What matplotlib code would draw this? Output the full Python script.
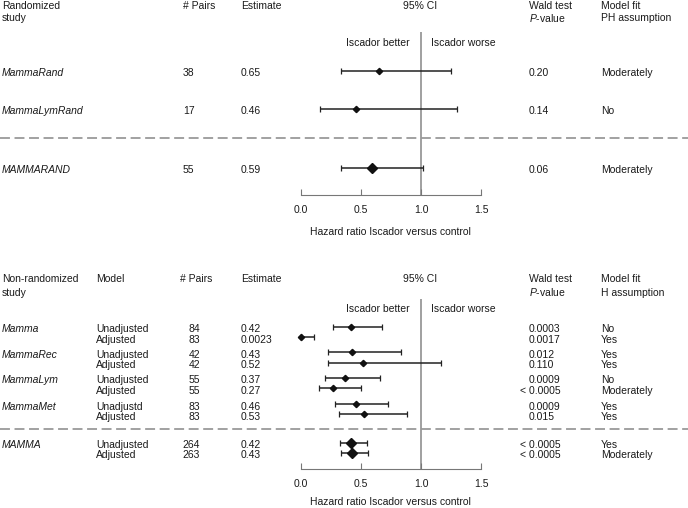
import numpy as np
import matplotlib.pyplot as plt

plt.rcParams['font.family'] = ['Liberation Sans', 'DejaVu Sans']
plt.rcParams['mathtext.fontset'] = 'custom'
plt.rcParams['mathtext.rm'] = 'Liberation Sans'
plt.rcParams['mathtext.it'] = 'Liberation Sans:italic'

# randomized studies
rand_study = ["MammaRand", "MammaLymRand", "MAMMARAND"]
rand_pairs = [38, 17, 55]
rand_est = [0.65, 0.46, 0.59]
rand_lo = [0.34, 0.16, 0.34]
rand_hi = [1.25, 1.30, 1.02]
rand_p = ["0.20", "0.14", "0.06"]
rand_fit = ["Moderately", "No", "Moderately"]

# non-randomized studies, two models each
nr_study = ["Mamma", "MammaRec", "MammaLym", "MammaMet", "MAMMA"]
nr_model = ["Unadjusted", "Adjusted", "Unadjusted", "Adjusted", "Unadjusted", "Adjusted",
            "Unadjustd", "Adjusted", "Unadjusted", "Adjusted"]
nr_pairs = [84, 83, 42, 42, 55, 55, 83, 83, 264, 263]
nr_est = [0.42, 0.0023, 0.43, 0.52, 0.37, 0.27, 0.46, 0.53, 0.42, 0.43]
nr_lo = [0.27, 0.001, 0.23, 0.23, 0.20, 0.15, 0.29, 0.32, 0.33, 0.34]
nr_hi = [0.68, 0.11, 0.83, 1.17, 0.66, 0.50, 0.73, 0.88, 0.55, 0.56]
nr_p = ["0.0003", "0.0017", "0.012", "0.110", "0.0009", "< 0.0005", "0.0009", "0.015",
        "< 0.0005", "< 0.0005"]
nr_fit = ["No", "Yes", "Yes", "Yes", "No", "Moderately", "Yes", "Yes", "Yes", "Moderately"]

# layout (pixels)
W, H = 688, 508
X0, X15 = 300.5, 481.25
rand_y = [70.7, 109, 167.7]
nr_y = [327, 337.3, 352.3, 362.7, 377.7, 388.3, 404, 414.3, 443, 452.7]
FS = 7.5
TXT = '#1a1a1a'

fig = plt.figure(figsize=(W / 100, H / 100), dpi=100)
bg = fig.add_axes([0, 0, 1, 1])
bg.set_xlim(0, W)
bg.set_ylim(H, 0)
bg.axis('off')


def t(x, y, s, **kw):
    bg.text(x, y, s, fontsize=FS, color=TXT, va='center', **kw)


def forest(top, bottom, est, lo, hi, ys, big, lpad):
    ax = fig.add_axes([X0 / W, 1 - bottom / H, (X15 - X0) / W, (bottom - top) / H])
    ax.set_xlim(0, 1.5)
    ax.set_ylim(bottom, top)
    ax.patch.set_visible(False)
    for s in ['top', 'right', 'left']:
        ax.spines[s].set_visible(False)
    ax.spines['bottom'].set_color('#777')
    ax.set_yticks([])
    ax.set_xticks([0, 0.5, 1.0, 1.5])
    ax.set_xticklabels(['0.0', '0.5', '1.0', '1.5'])
    ax.tick_params(axis='x', direction='in', length=4, color='#777', pad=7,
                   labelsize=FS, labelcolor=TXT)
    ax.set_xlabel("Hazard ratio Iscador versus control", fontsize=FS, color=TXT, labelpad=lpad)
    ax.axvline(1.0, color='#999', lw=1.3, zorder=1)
    for i in range(len(est)):
        e = est[i]
        ax.errorbar(e, ys[i], xerr=[[e - lo[i]], [hi[i] - e]], fmt='none', ecolor='#222',
                    elinewidth=1.1, capsize=2.2, capthick=0.9, clip_on=False, zorder=2)
        ax.plot(e, ys[i], marker='D', ms=5.2 if i in big else 3.2, color='#111',
                linestyle='none', clip_on=False, zorder=3)
    return ax


forest(32, 195, rand_est, rand_lo, rand_hi, rand_y, [2], 9)
forest(299, 469.3, nr_est, nr_lo, nr_hi, nr_y, [8, 9], 5.5)

# dashed separators
for yy in [138, 429]:
    bg.plot([0, W], [yy, yy], color='#888', lw=1.1, dashes=(6.5, 3))

# top header
t(2, 6, "Randomized")
t(2, 18, "study")
t(183, 6, "# Pairs")
t(241, 6, "Estimate")
t(420, 6, "95% CI", ha='center')
t(529, 6, "Wald test")
t(529, 18, r"$\it{P}$-value")
t(601, 6, "Model fit")
t(601, 18, "PH assumption")
t(410, 43, "Iscador better", ha='right')
t(431, 43, "Iscador worse")

for i in range(len(rand_study)):
    y = rand_y[i] + 2.5
    t(2, y, rand_study[i], style='italic')
    t(183, y, str(rand_pairs[i]))
    t(241, y, "%.2f" % rand_est[i])
    t(529, y, rand_p[i])
    t(601, y, rand_fit[i])

# bottom header
t(2, 279.5, "Non-randomized")
t(2, 292.5, "study")
t(96, 279.5, "Model")
t(180, 279.5, "# Pairs")
t(241, 279.5, "Estimate")
t(420, 279.5, "95% CI", ha='center')
t(529, 279.5, "Wald test")
t(529, 292.5, r"$\it{P}$-value")
t(601, 279.5, "Model fit")
t(601, 292.5, "H assumption")
t(410, 309, "Iscador better", ha='right')
t(431, 309, "Iscador worse")

for i in range(len(nr_model)):
    y = nr_y[i] + 2.5
    if i % 2 == 0:
        t(2, y, nr_study[i // 2], style='italic')
    t(96, y, nr_model[i])
    t(200, y, str(nr_pairs[i]), ha='right')
    t(241, y, str(nr_est[i]))
    t(520 if nr_p[i].startswith('<') else 529, y, nr_p[i])
    t(601, y, nr_fit[i])

fig.savefig("out.png", dpi=100)
